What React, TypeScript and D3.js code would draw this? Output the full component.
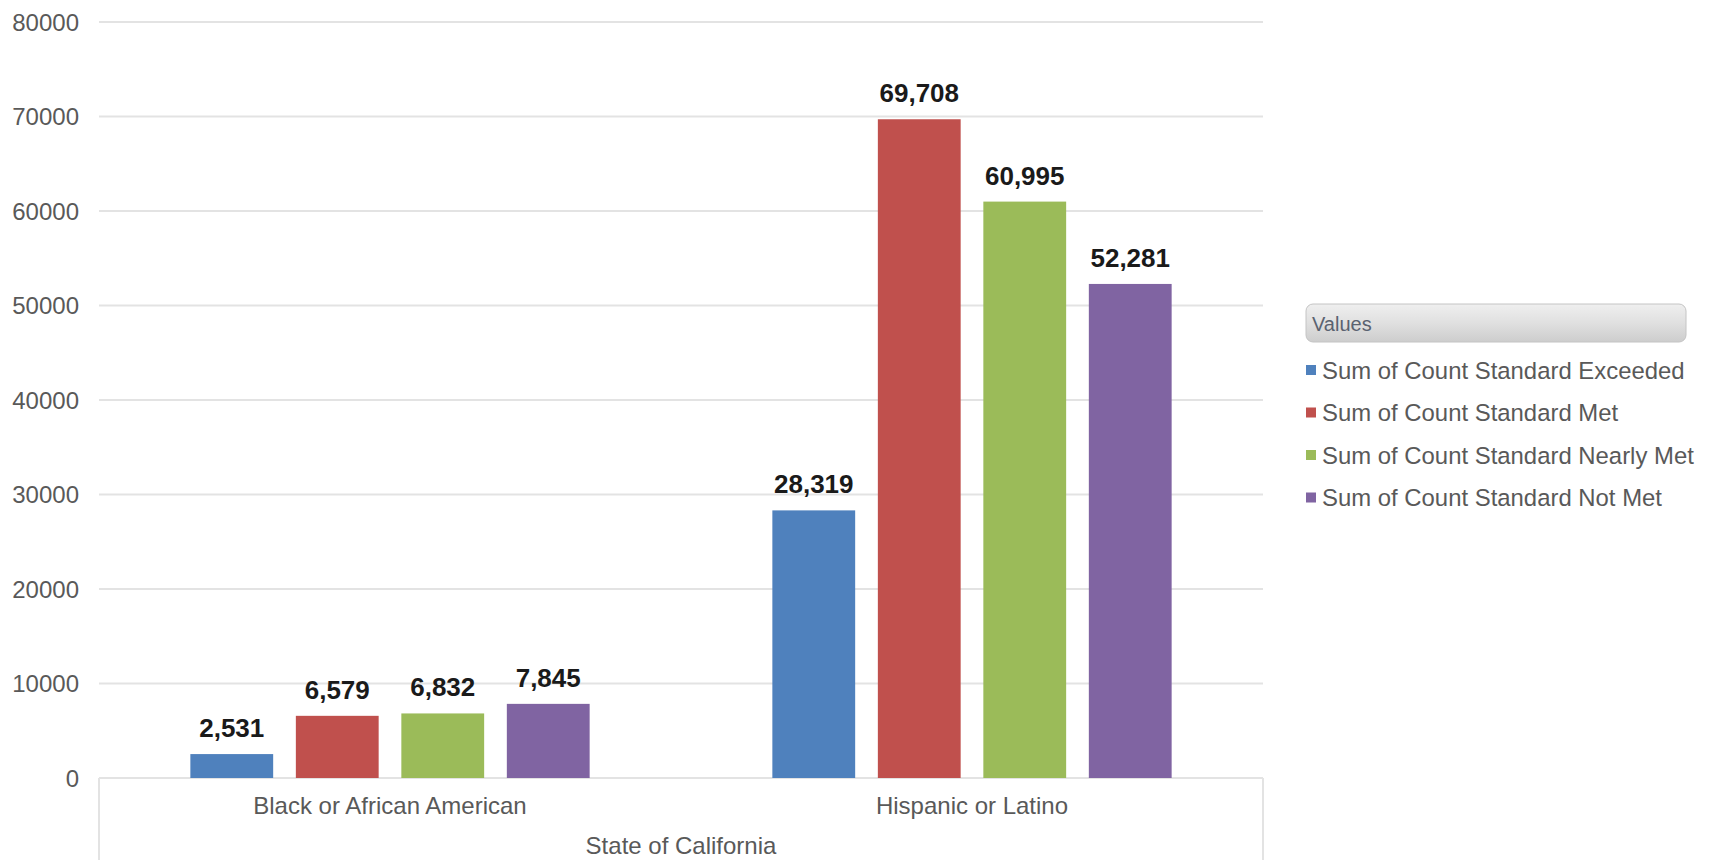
import React from "react";
import * as d3 from "d3";

const categories = ["Black or African American", "Hispanic or Latino"];
const seriesNames = [
  "Sum of Count Standard Exceeded",
  "Sum of Count Standard Met",
  "Sum of Count Standard Nearly Met",
  "Sum of Count Standard Not Met",
];
const seriesColors = ["#4F81BD", "#C0504D", "#9BBB59", "#8064A2"];
const exceeded = [2531, 28319];
const met = [6579, 69708];
const nearlyMet = [6832, 60995];
const notMet = [7845, 52281];
const yTicks = [0, 10000, 20000, 30000, 40000, 50000, 60000, 70000, 80000];
const outerCategory = "State of California";
const legendTitle = "Values";

const W = 1713;
const H = 860;
const M = { left: 99, right: 1263, top: 22, zero: 778 };

export default function App() {
  const seriesValues = [exceeded, met, nearlyMet, notMet];
  const y = d3.scaleLinear().domain([0, 80000]).range([M.zero, M.top]);
  const x0 = d3.scaleBand<string>().domain(categories).range([M.left, M.right]).padding(0);
  const x1 = d3
    .scaleBand<string>()
    .domain(seriesNames)
    .range([0, x0.bandwidth()])
    .paddingInner(0.215)
    .paddingOuter(0.866);
  const fmt = d3.format(",");
  const font = "'Liberation Sans', Arial, sans-serif";
  const gridColor = "#e3e3e3";

  return (
    <svg
      width={W}
      height={H}
      style={{ position: "absolute", left: 0, top: 0, background: "#fff" }}
    >
      <defs>
        <linearGradient id="lgHead" x1="0" y1="0" x2="0" y2="1">
          <stop offset="0" stopColor="#efefef" />
          <stop offset="0.5" stopColor="#e0e0e0" />
          <stop offset="1" stopColor="#cdcdcd" />
        </linearGradient>
      </defs>
      {/* gridlines */}
      {yTicks.map((t) => (
        <line
          key={t}
          x1={M.left}
          x2={M.right}
          y1={y(t)}
          y2={y(t)}
          stroke={gridColor}
          strokeWidth={2}
        />
      ))}
      {/* y labels */}
      {yTicks.map((t) => (
        <text
          key={"l" + t}
          x={79}
          y={y(t)}
          dy="0.36em"
          textAnchor="end"
          fontFamily={font}
          fontSize={24}
          fill="#595959"
        >
          {t}
        </text>
      ))}
      {/* category box */}
      <line x1={M.left} x2={M.left} y1={M.zero} y2={H} stroke={gridColor} strokeWidth={2} />
      <line x1={M.right} x2={M.right} y1={M.zero} y2={H} stroke={gridColor} strokeWidth={2} />
      {/* bars */}
      {categories.map((c, ci) => (
        <g key={c} transform={`translate(${x0(c)},0)`}>
          {seriesNames.map((s, si) => {
            const v = seriesValues[si][ci];
            const bx = x1(s)!;
            return (
              <g key={s}>
                <rect
                  x={bx}
                  y={y(v)}
                  width={x1.bandwidth()}
                  height={M.zero - y(v)}
                  fill={seriesColors[si]}
                />
                <text
                  x={bx + x1.bandwidth() / 2}
                  y={y(v) - 17}
                  textAnchor="middle"
                  fontFamily={font}
                  fontWeight="bold"
                  fontSize={26}
                  fill="#1a1a1a"
                >
                  {fmt(v)}
                </text>
              </g>
            );
          })}
          <text
            x={x0.bandwidth() / 2}
            y={805}
            dy="0.36em"
            textAnchor="middle"
            fontFamily={font}
            fontSize={24}
            fill="#595959"
          >
            {c}
          </text>
        </g>
      ))}
      <text
        x={(M.left + M.right) / 2}
        y={845}
        dy="0.36em"
        textAnchor="middle"
        fontFamily={font}
        fontSize={24}
        fill="#595959"
      >
        {outerCategory}
      </text>
      {/* legend */}
      <rect
        x={1306}
        y={304}
        width={380}
        height={38}
        rx={7}
        fill="url(#lgHead)"
        stroke="#c4c4c4"
        strokeWidth={1}
      />
      <text
        x={1312}
        y={324}
        dy="0.36em"
        fontFamily={font}
        fontSize={20}
        fill="#5a6270"
      >
        {legendTitle}
      </text>
      {seriesNames.map((s, i) => {
        const cy = 370 + i * 42.5;
        return (
          <g key={"lg" + s}>
            <rect x={1306} y={cy - 5} width={10} height={10} fill={seriesColors[i]} />
            <text
              x={1322}
              y={cy}
              dy="0.36em"
              fontFamily={font}
              fontSize={23.9}
              fill="#595959"
            >
              {s}
            </text>
          </g>
        );
      })}
    </svg>
  );
}
